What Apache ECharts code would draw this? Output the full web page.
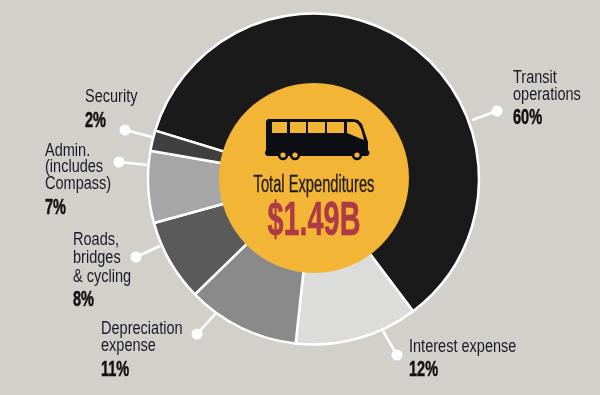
<!DOCTYPE html>
<html><head><meta charset="utf-8">
<style>html,body{margin:0;padding:0;background:#d1d0ca}#c{width:600px;height:395px}</style>
<script src="https://cdn.jsdelivr.net/npm/echarts@6/dist/echarts.min.js"></script></head>
<body><div id="c"></div>
<script>
const categories = ['Transit\noperations','Interest expense','Depreciation\nexpense','Roads,\nbridges\n& cycling','Admin.\n(includes\nCompass)','Security'];
const shares = [60,12,11,8,7,2];
const centerTitle = 'Total Expenditures';
const centerValue = '$1.49B';

const sliceColors = ['#1a1a1a','#dcdcda','#8a8a8a','#5a5a5a','#a6a6a6','#3f3f3f'];
const nameAnchors = [[513,78],[409,347],[101,329],[73,240],[45,151],[85,97]];
const lineGaps = [17.5,17.5,17,18.5,16.5,17.5];
const shareLabelY = [118,370,370,300,208,121];
const leaderEnds = [[[497,111],[472,120]],[[397,355],[383,331]],[[197,334],[216,313]],[[136,257],[160,246]],[[119,162],[148,165]],[[125,130],[152,137]]];
const cx = 313.5, cy = 179, R = 165.5, coreR = 95;
const fontName = '"Liberation Sans",sans-serif';

const chart = echarts.init(document.getElementById('c'), null, {renderer:'canvas'});
const wheels = [[283,155],[295,155],[357,155]];
const ink = '#0d0d14', yellow = '#f3b535';
const busBody = [[268,119],[353,119],[358,120],[362,124],[368,142],[368,150],[369.5,152],[369,155],[367,156],[267,156],[265,154],[265,152],[266,150],[266,121]];
const busWindows = [
  [[272,122],[287,122],[287,133],[272,133]],
  [[290,122],[306,122],[306,133],[290,133]],
  [[308,122],[325,122],[325,133],[308,133]],
  [[327,122],[344,122],[344,133],[327,133]],
  [[347,122],[355,122],[358,124],[361,129],[364,140],[347,133]]];
const labelEls = categories.flatMap((name,i) => [
  {type:'text', z:50, silent:true, x:nameAnchors[i][0], y:nameAnchors[i][1]-lineGaps[i]/2, scaleX:0.83, originX:0, originY:0,
    style:{text:name, fill:'#1a1a24', font:'17.5px '+fontName, lineHeight:lineGaps[i], align:'left', verticalAlign:'top'}},
  {type:'text', z:50, silent:true, x:nameAnchors[i][0], y:shareLabelY[i], scaleX:0.66, originX:0, originY:0,
    style:{text:shares[i]+'%', fill:'#111', stroke:'#111', lineWidth:0.5, font:'bold 22px '+fontName, align:'left', verticalAlign:'middle'}}
]);
const leaderEls = leaderEnds.flatMap(l => [
  {type:'line', z:49, silent:true, shape:{x1:l[0][0],y1:l[0][1],x2:l[1][0],y2:l[1][1]}, style:{stroke:'#fff',lineWidth:2.5}},
  {type:'circle', z:50, silent:true, shape:{cx:l[0][0],cy:l[0][1],r:5.5}, style:{fill:'#fff'}}
]);
const graphics = [
  {type:'circle', z:40, silent:true, shape:{cx:314,cy:178,r:coreR}, style:{fill:yellow}},
  {type:'polygon', z:41, silent:true, shape:{points:busBody}, style:{fill:ink}},
  ...busWindows.map(p => ({type:'polygon', z:42, silent:true, shape:{points:p}, style:{fill:yellow}})),
  ...wheels.flatMap(w => [
    {type:'circle', z:43, silent:true, shape:{cx:w[0],cy:w[1],r:5.2}, style:{fill:ink}},
    {type:'circle', z:44, silent:true, shape:{cx:w[0],cy:w[1],r:2.6}, style:{fill:yellow}}]),
  {type:'text', z:45, silent:true, x:314, y:186, scaleX:0.625, originX:0, originY:0,
    style:{text:centerTitle, fill:'#1c1a1a', stroke:'#1c1a1a', lineWidth:0.3, font:'23.5px '+fontName, align:'center', verticalAlign:'middle'}},
  {type:'text', z:45, silent:true, x:314, y:222, scaleX:0.6, originX:0, originY:0,
    style:{text:centerValue, fill:'#ad3a45', stroke:'#ad3a45', lineWidth:0.6, font:'bold 48px '+fontName, align:'center', verticalAlign:'middle'}},
  ...leaderEls, ...labelEls
];
chart.setOption({
  animation:false,
  backgroundColor:'#d1d0ca',
  graphic:{elements:graphics},
  series:[{
    type:'pie', silent:true, center:[cx,cy], radius:[0,R], startAngle:163, clockwise:true,
    itemStyle:{borderColor:'#fff',borderWidth:2.5},
    label:{show:false}, labelLine:{show:false},
    data:categories.map((n,i)=>({name:n,value:shares[i],itemStyle:{color:sliceColors[i]}}))
  }]
});
</script></body></html>
